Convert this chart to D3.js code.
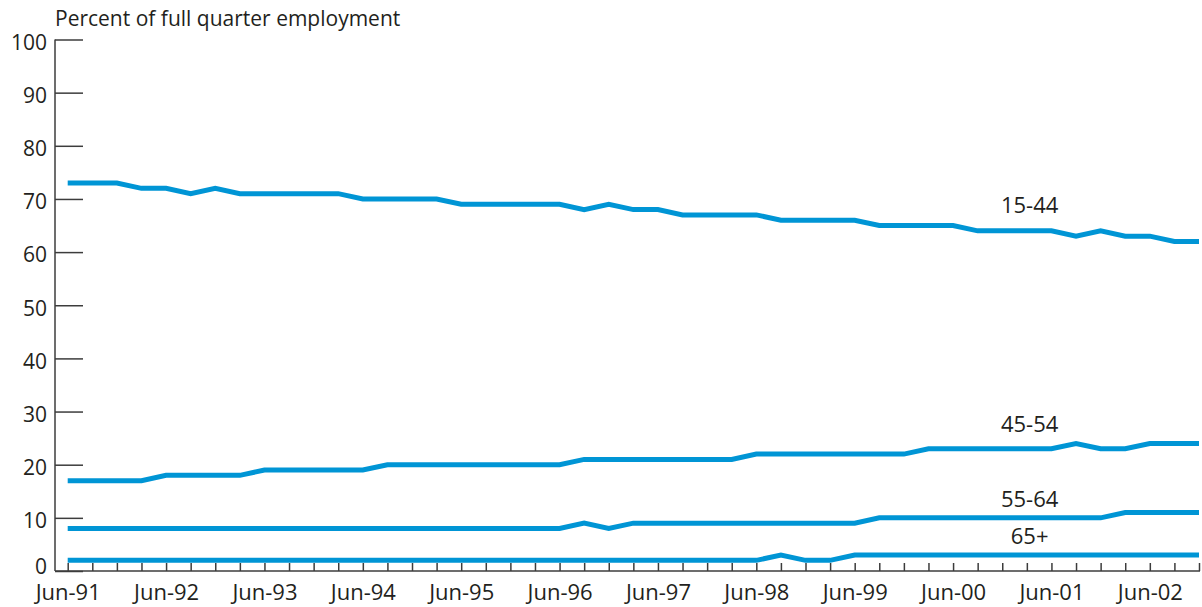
<!DOCTYPE html>
<html>
<head>
<meta charset="utf-8">
<script src="https://cdn.jsdelivr.net/npm/d3@7"></script>
<style>
	body { margin: 0; background: #fff; }
	svg text { font-family: "Open Sans", sans-serif; fill: #231f20; }
	.axis path, .axis line { stroke: #3c3c3c; stroke-width: 1.5; }
</style>
</head>
<body>
<svg width="1202" height="607"></svg>
<script>
// quarters, Jun-91 .. Dec-02
var quarters = ['Jun-91','Sep-91','Dec-91','Mar-92','Jun-92','Sep-92','Dec-92','Mar-93','Jun-93','Sep-93','Dec-93','Mar-94',
	'Jun-94','Sep-94','Dec-94','Mar-95','Jun-95','Sep-95','Dec-95','Mar-96','Jun-96','Sep-96','Dec-96','Mar-97',
	'Jun-97','Sep-97','Dec-97','Mar-98','Jun-98','Sep-98','Dec-98','Mar-99','Jun-99','Sep-99','Dec-99','Mar-00',
	'Jun-00','Sep-00','Dec-00','Mar-01','Jun-01','Sep-01','Dec-01','Mar-02','Jun-02','Sep-02','Dec-02'];

var age15_44 = [73,73,73,72,72,71,72,71,71,71,71,71,70,70,70,70,69,69,69,69,69,68,69,68,68,67,67,67,67,66,66,66,66,65,65,65,65,64,64,64,64,63,64,63,63,62,62];
var age45_54 = [17,17,17,17,18,18,18,18,19,19,19,19,19,20,20,20,20,20,20,20,20,21,21,21,21,21,21,21,22,22,22,22,22,22,22,23,23,23,23,23,23,24,23,23,24,24,24];
var age55_64 = [8,8,8,8,8,8,8,8,8,8,8,8,8,8,8,8,8,8,8,8,8,9,8,9,9,9,9,9,9,9,9,9,9,10,10,10,10,10,10,10,10,10,10,11,11,11,11];
var age65up  = [2,2,2,2,2,2,2,2,2,2,2,2,2,2,2,2,2,2,2,2,2,2,2,2,2,2,2,2,2,3,2,2,3,3,3,3,3,3,3,3,3,3,3,3,3,3,3];

var seriesNames = ['15-44','45-54','55-64','65+'];
var yTicks = [0,10,20,30,40,50,60,70,80,90,100];

function main() {
	var svg = d3.select('svg');
	var left = 55, top = 39.5, bottom = 571;

	var x = d3.scaleLinear().domain([0, quarters.length - 1]).range([67.7, 1199]);
	var y = d3.scaleLinear().domain([0, 100]).range([bottom, top]);

	// y axis
	var yAxis = svg.append('g')
		.attr('class', 'axis')
		.attr('transform', 'translate(' + left + ',0)')
		.call(d3.axisLeft(y).tickValues(yTicks).tickSizeInner(-28).tickSizeOuter(0).tickPadding(8));
	yAxis.select('.domain').remove();
	yAxis.selectAll('text').attr('font-size', 21)
		.attr('dy', function(d){ return d === 0 ? '0.14em' : '0.47em'; });

	// x axis
	var xAxis = svg.append('g')
		.attr('class', 'axis')
		.attr('transform', 'translate(0,' + bottom + ')')
		.call(d3.axisBottom(x)
			.tickValues(d3.range(quarters.length))
			.tickSizeInner(-8).tickSizeOuter(0).tickPadding(13)
			.tickFormat(function(i){ return i % 4 === 0 ? quarters[i] : ''; }));
	xAxis.select('.domain').remove();
	xAxis.selectAll('text').attr('font-size', 22);

	// axis lines
	svg.append('line')
		.attr('x1', left).attr('x2', left).attr('y1', y(100)).attr('y2', y(0))
		.attr('stroke', '#3c3c3c').attr('stroke-width', 1.5);
	svg.append('line')
		.attr('x1', left).attr('x2', x(quarters.length - 1) + 1).attr('y1', y(0)).attr('y2', y(0))
		.attr('stroke', '#3c3c3c').attr('stroke-width', 1.5);

	// title
	svg.append('text')
		.attr('x', left).attr('y', 26)
		.attr('font-size', 21)
		.text('Percent of full quarter employment');

	var line = d3.line()
		.x(function(d, i){ return x(i); })
		.y(function(d){ return y(d); });

	var allSeries = [age15_44, age45_54, age55_64, age65up];
	svg.selectAll('.series')
		.data(allSeries)
		.enter().append('path')
		.attr('class', 'series')
		.attr('d', line)
		.attr('fill', 'none')
		.attr('stroke', '#0095d5')
		.attr('stroke-width', 5);

	// series labels, placed above the line near Sep-00
	var labelIdx = 37;
	var labelGap = [18, 17, 11, 11];
	svg.selectAll('.lbl')
		.data(allSeries)
		.enter().append('text')
		.attr('class', 'lbl')
		.attr('x', x(labelIdx) + 52)
		.attr('y', function(d, i){ return y(d[labelIdx]) - labelGap[i]; })
		.attr('text-anchor', 'middle')
		.attr('font-size', 22)
		.text(function(d, i){ return seriesNames[i]; });
}
main();
</script>
</body>
</html>
